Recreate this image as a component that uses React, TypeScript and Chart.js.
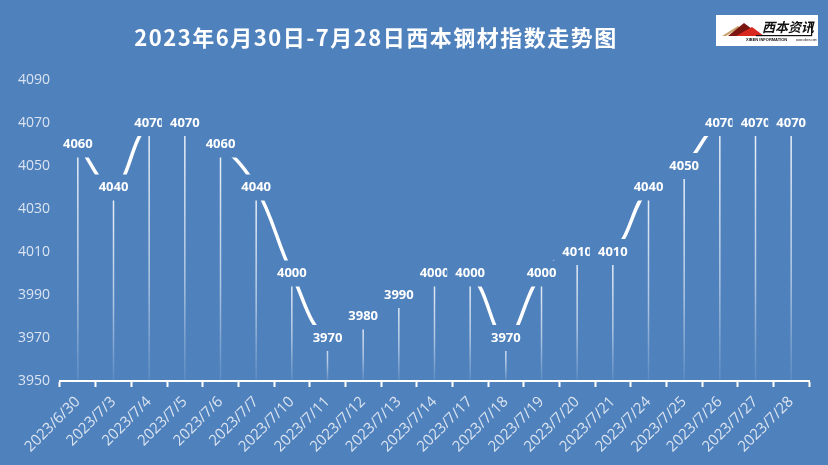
import React, { useEffect, useRef } from "react";
import { Chart, registerables } from "chart.js";

Chart.register(...registerables);

const categories = [
  "2023/6/30", "2023/7/3", "2023/7/4", "2023/7/5", "2023/7/6", "2023/7/7",
  "2023/7/10", "2023/7/11", "2023/7/12", "2023/7/13", "2023/7/14", "2023/7/17",
  "2023/7/18", "2023/7/19", "2023/7/20", "2023/7/21", "2023/7/24", "2023/7/25",
  "2023/7/26", "2023/7/27", "2023/7/28",
];
const values = [
  4060, 4040, 4070, 4070, 4060, 4040,
  4000, 3970, 3980, 3990, 4000, 4000,
  3970, 4000, 4010, 4010, 4040, 4050,
  4070, 4070, 4070,
];
const yMin = 3950;
const yMax = 4090;
const yStep = 20;
const titleText = "2023年6月30日-7月28日西本钢材指数走势图";
const logoText = "西本资讯";
const logoSub = "XIBEN INFORMATION";

const BG = "#4f81bd";
const TICK_COLOR = "#dbe4f0";

const bgPlugin = {
  id: "bgPlugin",
  beforeDraw(chart: any) {
    const { ctx, width, height } = chart;
    ctx.save();
    ctx.fillStyle = BG;
    ctx.fillRect(0, 0, width, height);
    ctx.restore();
  },
};

const decorPlugin = {
  id: "decorPlugin",
  afterDraw(chart: any) {
    const { ctx } = chart;
    ctx.save();
    // title
    ctx.fillStyle = "#ffffff";
    ctx.font = "bold 22px 'Noto Sans CJK SC', 'Noto Sans', sans-serif";
    try { (ctx as any).letterSpacing = "1.5px"; } catch (e) {}
    ctx.textAlign = "center";
    ctx.textBaseline = "middle";
    ctx.fillText(titleText, 376, 38);
    try { (ctx as any).letterSpacing = "0px"; } catch (e) {}

    // logo
    const lx = 716, ly = 15, lw = 102, lh = 31;
    ctx.fillStyle = "#ffffff";
    ctx.fillRect(lx, ly, lw, lh);
    // mountains
    ctx.fillStyle = "#c9a26a";
    ctx.beginPath();
    ctx.moveTo(lx + 6, ly + 21);
    ctx.lineTo(lx + 22, ly + 11);
    ctx.lineTo(lx + 24, ly + 12.5);
    ctx.lineTo(lx + 10, ly + 21);
    ctx.closePath();
    ctx.fill();
    ctx.fillStyle = "#7a1512";
    ctx.beginPath();
    ctx.moveTo(lx + 12, ly + 21);
    ctx.lineTo(lx + 28, ly + 8);
    ctx.lineTo(lx + 36, ly + 14);
    ctx.lineTo(lx + 22, ly + 21);
    ctx.closePath();
    ctx.fill();
    ctx.fillStyle = "#d8281f";
    ctx.beginPath();
    ctx.moveTo(lx + 20, ly + 21);
    ctx.lineTo(lx + 36, ly + 12);
    ctx.lineTo(lx + 48, ly + 21);
    ctx.closePath();
    ctx.fill();
    // text
    ctx.fillStyle = "#111111";
    ctx.font = "italic bold 13px 'Noto Sans CJK SC', sans-serif";
    ctx.textAlign = "left";
    ctx.textBaseline = "middle";
    ctx.fillText(logoText, lx + 46, ly + 12);
    ctx.fillRect(lx + 40, ly + 20, 56, 1.2);
    ctx.fillRect(lx + 95, ly + 8, 1.2, 13);
    ctx.font = "bold 4px 'Liberation Sans', sans-serif";
    ctx.fillText(logoSub, lx + 30, ly + 25);
    ctx.font = "3px 'Liberation Sans', sans-serif";
    ctx.fillText("www.xiben.com", lx + 80, ly + 25);
    ctx.restore();
  },
};

const dropLinePlugin = {
  id: "dropLinePlugin",
  beforeDatasetsDraw(chart: any) {
    const { ctx, chartArea } = chart;
    const meta = chart.getDatasetMeta(0);
    ctx.save();
    meta.data.forEach((pt: any) => {
      const g = ctx.createLinearGradient(0, pt.y, 0, chartArea.bottom);
      g.addColorStop(0, "rgba(255,255,255,0.9)");
      g.addColorStop(0.6, "rgba(255,255,255,0.55)");
      g.addColorStop(1, "rgba(255,255,255,0.08)");
      ctx.strokeStyle = g;
      ctx.lineWidth = 1.5;
      ctx.beginPath();
      ctx.moveTo(pt.x, pt.y);
      ctx.lineTo(pt.x, chartArea.bottom);
      ctx.stroke();
    });
    ctx.restore();
  },
};

const labelPlugin = {
  id: "labelPlugin",
  afterDatasetsDraw(chart: any) {
    const { ctx } = chart;
    const meta = chart.getDatasetMeta(0);
    const data = chart.data.datasets[0].data;
    ctx.save();
    ctx.font = "bold 13px 'Open Sans', sans-serif";
    ctx.textAlign = "center";
    ctx.textBaseline = "middle";
    meta.data.forEach((pt: any, i: number) => {
      ctx.fillStyle = BG;
      ctx.fillRect(pt.x - 23, pt.y - 13, 46, 26);
      ctx.fillStyle = "#ffffff";
      ctx.fillText(String(data[i]), pt.x, pt.y);
    });
    ctx.restore();
  },
};

export default function App() {
  const ref = useRef<HTMLCanvasElement | null>(null);

  useEffect(() => {
    document.body.style.margin = "0";
    if (!ref.current) return;
    const chart = new Chart(ref.current, {
      type: "line",
      data: {
        labels: categories,
        datasets: [
          {
            data: values,
            borderColor: "#ffffff",
            borderWidth: 3.5,
            tension: 0.4,
            pointRadius: 0,
            fill: false,
          },
        ],
      },
      options: {
        responsive: false,
        animation: false,
        layout: { padding: { top: 80, left: 8, right: 19, bottom: 0 } },
        plugins: {
          legend: { display: false },
          title: { display: false },
          tooltip: { enabled: false },
        },
        scales: {
          x: {
            type: "category",
            offset: true,
            grid: {
              offset: true,
              drawOnChartArea: false,
              drawTicks: true,
              tickLength: 6,
              tickWidth: 2,
              color: "#ffffff",
            },
            border: { display: true, color: "#ffffff", width: 2 },
            ticks: {
              color: TICK_COLOR,
              font: { family: "'Open Sans', sans-serif", size: 15 },
              minRotation: 45,
              maxRotation: 45,
              autoSkip: false,
              padding: 6,
            },
            afterFit(scale: any) {
              scale.height = 84;
            },
          },
          y: {
            min: yMin,
            max: yMax,
            grid: { display: false },
            border: { display: false },
            ticks: {
              stepSize: yStep,
              color: TICK_COLOR,
              font: { family: "'Open Sans', sans-serif", size: 14 },
              padding: 2,
              callback: (v: any) => String(v),
            },
            afterFit(scale: any) {
              scale.width = 52;
            },
          },
        },
      },
      plugins: [bgPlugin, dropLinePlugin, labelPlugin, decorPlugin],
    });
    return () => chart.destroy();
  }, []);

  return (
    <div style={{ width: 828, height: 465 }}>
      <canvas ref={ref} width={828} height={465} />
    </div>
  );
}
